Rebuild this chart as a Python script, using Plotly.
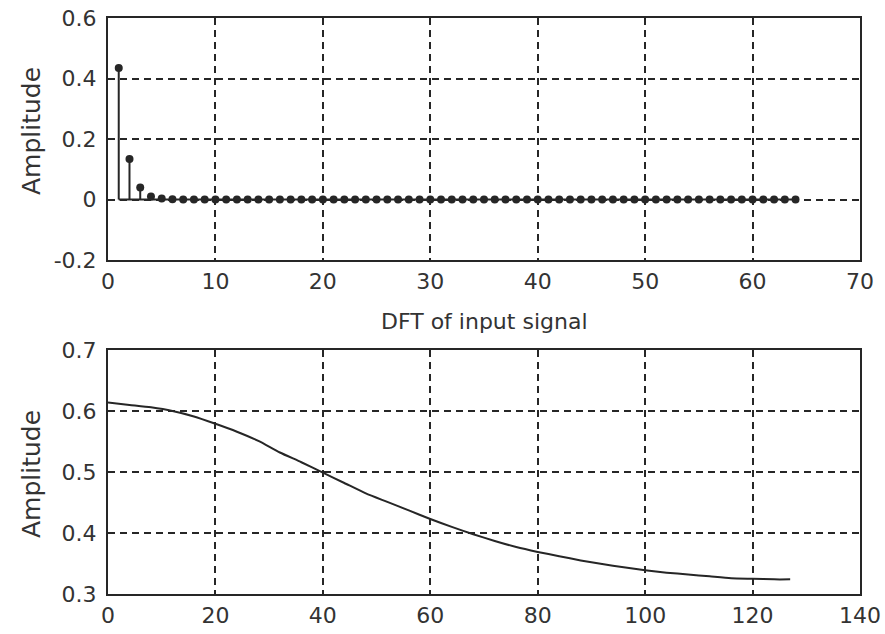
import plotly.graph_objects as go

# Top panel: magnitude samples of the input sequence, n = 1..64
sample_index = list(range(1, 65))
sample_amplitude = [
    0.435, 0.134, 0.040, 0.010, 0.003, 0.001, 0.000, 0.000,
    0.000, 0.000, 0.000, 0.000, 0.000, 0.000, 0.000, 0.000,
    0.000, 0.000, 0.000, 0.000, 0.000, 0.000, 0.000, 0.000,
    0.000, 0.000, 0.000, 0.000, 0.000, 0.000, 0.000, 0.000,
    0.000, 0.000, 0.000, 0.000, 0.000, 0.000, 0.000, 0.000,
    0.000, 0.000, 0.000, 0.000, 0.000, 0.000, 0.000, 0.000,
    0.000, 0.000, 0.000, 0.000, 0.000, 0.000, 0.000, 0.000,
    0.000, 0.000, 0.000, 0.000, 0.000, 0.000, 0.000, 0.000,
]

# Bottom panel: DFT magnitude of the input signal
freq_index = [0, 4, 8, 12, 16, 20, 24, 28, 32, 36, 40, 44, 48, 52, 56, 60,
              64, 68, 72, 76, 80, 84, 88, 92, 96, 100, 104, 108, 112, 116,
              120, 124, 127]
dft_amplitude = [0.614, 0.610, 0.606, 0.600, 0.591, 0.579, 0.566, 0.551,
                 0.532, 0.516, 0.499, 0.482, 0.465, 0.451, 0.437, 0.423,
                 0.410, 0.398, 0.387, 0.377, 0.369, 0.362, 0.355, 0.349,
                 0.344, 0.339, 0.335, 0.332, 0.329, 0.326, 0.325, 0.324,
                 0.324]

top_xticks = [0, 10, 20, 30, 40, 50, 60, 70]
top_yticks = [-0.2, 0, 0.2, 0.4, 0.6]
top_ylabels = ["-0.2", "0", "0.2", "0.4", "0.6"]
bot_xticks = [0, 20, 40, 60, 80, 100, 120, 140]
bot_yticks = [0.3, 0.4, 0.5, 0.6, 0.7]
bot_ylabels = ["0.3", "0.4", "0.5", "0.6", "0.7"]

INK = "#262626"
TXT = "#333333"
FONT = dict(family="DejaVu Sans", size=22, color=TXT)

fig = go.Figure()

# stems (vertical segments from zero to each value)
stem_x, stem_y = [], []
for xi, yi in zip(sample_index, sample_amplitude):
    stem_x += [xi, xi, None]
    stem_y += [0, yi, None]
fig.add_trace(go.Scatter(x=stem_x, y=stem_y, mode="lines",
                         line=dict(color=INK, width=2),
                         xaxis="x", yaxis="y", hoverinfo="skip"))
# stem baseline
fig.add_trace(go.Scatter(x=[sample_index[0], sample_index[-1]], y=[0, 0],
                         mode="lines", line=dict(color=INK, width=2),
                         xaxis="x", yaxis="y", hoverinfo="skip"))
# stem heads
fig.add_trace(go.Scatter(x=sample_index, y=sample_amplitude, mode="markers",
                         marker=dict(color=INK, size=8, symbol="circle"),
                         xaxis="x", yaxis="y"))

# DFT magnitude curve
fig.add_trace(go.Scatter(x=freq_index, y=dft_amplitude, mode="lines",
                         line=dict(color=INK, width=2, shape="spline",
                                   smoothing=0.6),
                         xaxis="x2", yaxis="y2"))

axis_common = dict(
    showline=True, mirror=True, linecolor=INK, linewidth=2,
    showgrid=True, gridcolor=INK, gridwidth=1.8, griddash="7px,5px",
    zeroline=False, ticks="", tickfont=FONT, automargin=False,
)
x_axis = dict(ticklabelstandoff=1, **axis_common)
y_axis = dict(ticklabelstandoff=5, **axis_common)

dom_x = [108 / 885, 860 / 885]
fig.update_layout(
    width=885, height=634,
    margin=dict(l=0, r=0, t=0, b=0),
    paper_bgcolor="white", plot_bgcolor="white",
    showlegend=False,
    xaxis=dict(domain=dom_x, range=[0, 70], tickvals=top_xticks,
               anchor="y", **x_axis),
    yaxis=dict(domain=[1 - 260 / 634, 1 - 18 / 634], range=[-0.2, 0.6],
               tickvals=top_yticks, ticktext=top_ylabels,
               anchor="x", **y_axis),
    xaxis2=dict(domain=dom_x, range=[0, 140], tickvals=bot_xticks,
                anchor="y2", **x_axis),
    yaxis2=dict(domain=[1 - 594 / 634, 1 - 350 / 634], range=[0.3, 0.7],
                tickvals=bot_yticks, ticktext=bot_ylabels,
                anchor="x2", **y_axis),
    annotations=[
        dict(text="DFT of input signal", x=484 / 885, y=1 - 321 / 634,
             xref="paper", yref="paper", showarrow=False,
             xanchor="center", yanchor="middle", font=FONT),
        dict(text="Amplitude", x=31 / 885, y=1 - 131 / 634,
             xref="paper", yref="paper", showarrow=False, textangle=-90,
             xanchor="center", yanchor="middle",
             font=dict(family="DejaVu Sans", size=25, color=TXT)),
        dict(text="Amplitude", x=31 / 885, y=1 - 474 / 634,
             xref="paper", yref="paper", showarrow=False, textangle=-90,
             xanchor="center", yanchor="middle",
             font=dict(family="DejaVu Sans", size=25, color=TXT)),
    ],
)

fig.write_html("out.html")
